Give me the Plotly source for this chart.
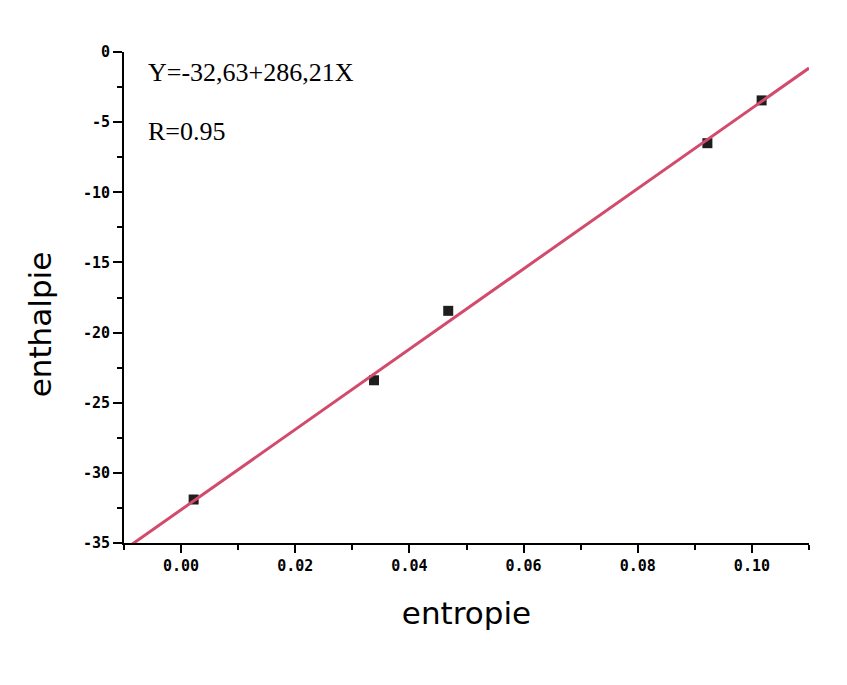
import plotly.graph_objects as go

# Measured points (entropie, enthalpie)
entropie = [0.0022, 0.0338, 0.0468, 0.0922, 0.1017]
enthalpie = [-31.9, -23.4, -18.45, -6.5, -3.45]

# Linear fit Y = a + b*X
fit_a = -32.63
fit_b = 286.21
fit_r = 0.95
fit_x = [-0.01, 0.11]
fit_y = [fit_a + fit_b * v for v in fit_x]

# Axis ticks
y_tickvals = [0, -5, -10, -15, -20, -25, -30, -35]
y_ticktext = ["0", "-5", "-10", "-15", "-20", "-25", "-30", "-35"]

tick_font = dict(family="DejaVu Sans Mono", size=15, color="black", weight="bold")
title_font = dict(family="DejaVu Sans", size=31, color="black")
eq_font = dict(family="Liberation Serif", size=26, color="black")

fig = go.Figure()
fig.add_trace(go.Scatter(
    x=entropie, y=enthalpie, mode="markers",
    marker=dict(symbol="square", size=10, color="#1e1e1e"),
    showlegend=False,
))
fig.add_trace(go.Scatter(
    x=fit_x, y=fit_y, mode="lines",
    line=dict(color="#d24a6c", width=3),
    showlegend=False,
))

fig.update_layout(
    width=847, height=685,
    margin=dict(l=124, r=38, t=52, b=142),
    plot_bgcolor="white", paper_bgcolor="white",
    xaxis=dict(
        range=[-0.01, 0.11], tickmode="linear", tick0=0, dtick=0.02,
        tickformat=".2f", showgrid=False, zeroline=False,
        showline=True, linecolor="black", linewidth=2,
        ticks="outside", ticklen=8, tickwidth=2, tickcolor="black",
        tickfont=tick_font,
        minor=dict(tickmode="linear", tick0=0.01, dtick=0.02, ticks="outside",
                   ticklen=5, tickwidth=2, tickcolor="black", showgrid=False),
        title=dict(text="entropie", font=title_font, standoff=28),
    ),
    yaxis=dict(
        range=[-35, 0], tickmode="array", tickvals=y_tickvals, ticktext=y_ticktext,
        showgrid=False, zeroline=False,
        showline=True, linecolor="black", linewidth=2,
        ticks="outside", ticklen=9, tickwidth=2, tickcolor="black",
        tickfont=tick_font,
        minor=dict(tickmode="linear", tick0=-2.5, dtick=5, ticks="outside",
                   ticklen=5, tickwidth=2, tickcolor="black", showgrid=False),
    ),
    annotations=[
        dict(xref="paper", yref="paper", x=-0.123, y=0.445, xanchor="center", yanchor="middle",
             text="enthalpie", textangle=-90, showarrow=False, font=title_font),
        dict(xref="paper", yref="paper", x=0.032, y=0.959, xanchor="left", yanchor="middle",
             text=f"Y={fit_a:.2f}+{fit_b:.2f}X".replace(".", ","), showarrow=False,
             font=eq_font),
        dict(xref="paper", yref="paper", x=0.032, y=0.839, xanchor="left", yanchor="middle",
             text=f"R={fit_r:.2f}", showarrow=False, font=eq_font),
    ],
)

fig.write_html("out.html")
